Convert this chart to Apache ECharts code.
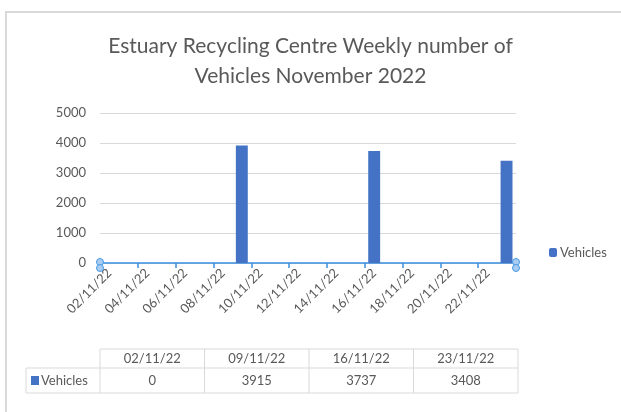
<!DOCTYPE html>
<html>
<head>
<meta charset="utf-8">
<script src="https://cdn.jsdelivr.net/npm/echarts@6/dist/echarts.min.js"></script>
<style>
  html, body { margin: 0; padding: 0; background: #fff; }
  #chart { width: 621px; height: 412px; }
</style>
</head>
<body>
<div id="chart"></div>
<script>
// every day on the date axis
const days = ['02/11/22', '03/11/22', '04/11/22', '05/11/22', '06/11/22', '07/11/22', '08/11/22',
  '09/11/22', '10/11/22', '11/11/22', '12/11/22', '13/11/22', '14/11/22', '15/11/22',
  '16/11/22', '17/11/22', '18/11/22', '19/11/22', '20/11/22', '21/11/22', '22/11/22', '23/11/22']
// weekly readings (also shown in the data table)
const weeks = ['02/11/22', '09/11/22', '16/11/22', '23/11/22']
const vehicles = [0, 3915, 3737, 3408]
const yTicks = [0, 1000, 2000, 3000, 4000, 5000]

const textColor = '#595959'
const lineColor = '#d9d9d9'
const barColor = '#4472c4'
const font = 'Lato'

// put weekly values on their day, other days empty
const seriesData = days.map(d => {
  const i = weeks.indexOf(d)
  return i >= 0 ? vehicles[i] : null
})

const grid = { left: 100, right: 105, top: 113, bottom: 149 }
const chartW = 621

// data table under the chart
const buildTable = () => {
  const els = []
  const top = 349, headH = 19, rowH = 25
  const labelLeft = 26
  const x0 = grid.left
  const colW = (chartW - grid.left - grid.right + 2) / weeks.length
  const x1 = x0 + colW * weeks.length
  const stroke = { stroke: lineColor, lineWidth: 1 }
  // horizontal lines
  els.push({ type: 'line', shape: { x1: x0, y1: top, x2: x1, y2: top }, style: stroke })
  els.push({ type: 'line', shape: { x1: labelLeft, y1: top + headH, x2: x1, y2: top + headH }, style: stroke })
  els.push({ type: 'line', shape: { x1: labelLeft, y1: top + headH + rowH, x2: x1, y2: top + headH + rowH }, style: stroke })
  // vertical lines
  els.push({ type: 'line', shape: { x1: labelLeft, y1: top + headH, x2: labelLeft, y2: top + headH + rowH }, style: stroke })
  for (let i = 0; i <= weeks.length; i++) {
    const x = x0 + colW * i
    els.push({ type: 'line', shape: { x1: x, y1: top, x2: x, y2: top + headH + rowH }, style: stroke })
  }
  weeks.forEach((w, i) => {
    const cx = x0 + colW * (i + 0.5)
    els.push({ type: 'text', x: cx, y: top + headH / 2, style: { text: w, font: '13px ' + font, fill: textColor, align: 'center', verticalAlign: 'middle' } })
    els.push({ type: 'text', x: cx, y: top + headH + rowH / 2, style: { text: String(vehicles[i]), font: '13px ' + font, fill: textColor, align: 'center', verticalAlign: 'middle' } })
  })
  els.push({ type: 'rect', shape: { x: 31, y: top + headH + 8, width: 8, height: 9 }, style: { fill: barColor } })
  els.push({ type: 'text', x: 41, y: top + headH + rowH / 2, style: { text: 'Vehicles', font: '13px ' + font, fill: textColor, align: 'left', verticalAlign: 'middle' } })
  return els
}

const showChart = () => {
  const myChart = echarts.init(document.getElementById('chart'), null, { renderer: 'canvas' })
  const axisY = 412 - grid.bottom
  const axisR = chartW - grid.right

  const option = {
    backgroundColor: '#fff',
    animation: false,
    title: {
      text: 'Estuary Recycling Centre Weekly number of\nVehicles November 2022',
      left: 'center',
      top: 26,
      textStyle: { fontFamily: font, fontSize: 21, fontWeight: 'normal', color: textColor, lineHeight: 30 }
    },
    legend: {
      data: ['Vehicles'],
      left: 544,
      top: 241,
      itemWidth: 8,
      itemHeight: 9,
      itemGap: 4,
      textStyle: { fontFamily: font, fontSize: 13, color: textColor, padding: [0, 0, 0, -2] }
    },
    grid: grid,
    xAxis: {
      type: 'category',
      data: days,
      boundaryGap: true,
      axisLine: { show: true, lineStyle: { color: '#3a8ee0', width: 1.5 } },
      axisTick: { show: true, interval: 1, length: 5, lineStyle: { color: '#3a8ee0', width: 1.5 } },
      axisLabel: { interval: 1, rotate: 45, color: textColor, fontFamily: font, fontSize: 13, margin: 8 }
    },
    yAxis: {
      type: 'value',
      min: yTicks[0],
      max: yTicks[yTicks.length - 1],
      interval: 1000,
      axisLine: { show: false },
      axisTick: { show: false },
      axisLabel: { color: textColor, fontFamily: font, fontSize: 13, margin: 14, formatter: v => String(v) },
      splitLine: { lineStyle: { color: lineColor, width: 1 } }
    },
    series: [
      {
        name: 'Vehicles',
        type: 'bar',
        data: seriesData,
        barWidth: '63%',
        itemStyle: { color: barColor }
      }
    ],
    graphic: [
      // outer chart frame
      { type: 'rect', shape: { x: 6, y: 12, width: 700, height: 500 }, style: { fill: 'none', stroke: lineColor, lineWidth: 2 }, z: -1 },
      // axis selection handles
      { type: 'circle', shape: { cx: grid.left, cy: axisY - 1, r: 3.5 }, style: { fill: '#a9cdf2', stroke: '#4a9be3', lineWidth: 1 }, z: 10 },
      { type: 'circle', shape: { cx: grid.left, cy: axisY + 5, r: 3.5 }, style: { fill: '#a9cdf2', stroke: '#4a9be3', lineWidth: 1 }, z: 10 },
      { type: 'circle', shape: { cx: axisR, cy: axisY - 1, r: 3.5 }, style: { fill: '#a9cdf2', stroke: '#4a9be3', lineWidth: 1 }, z: 10 },
      { type: 'circle', shape: { cx: axisR, cy: axisY + 5, r: 3.5 }, style: { fill: '#a9cdf2', stroke: '#4a9be3', lineWidth: 1 }, z: 10 }
    ].concat(buildTable())
  }
  option && myChart.setOption(option)
}

showChart()
</script>
</body>
</html>
